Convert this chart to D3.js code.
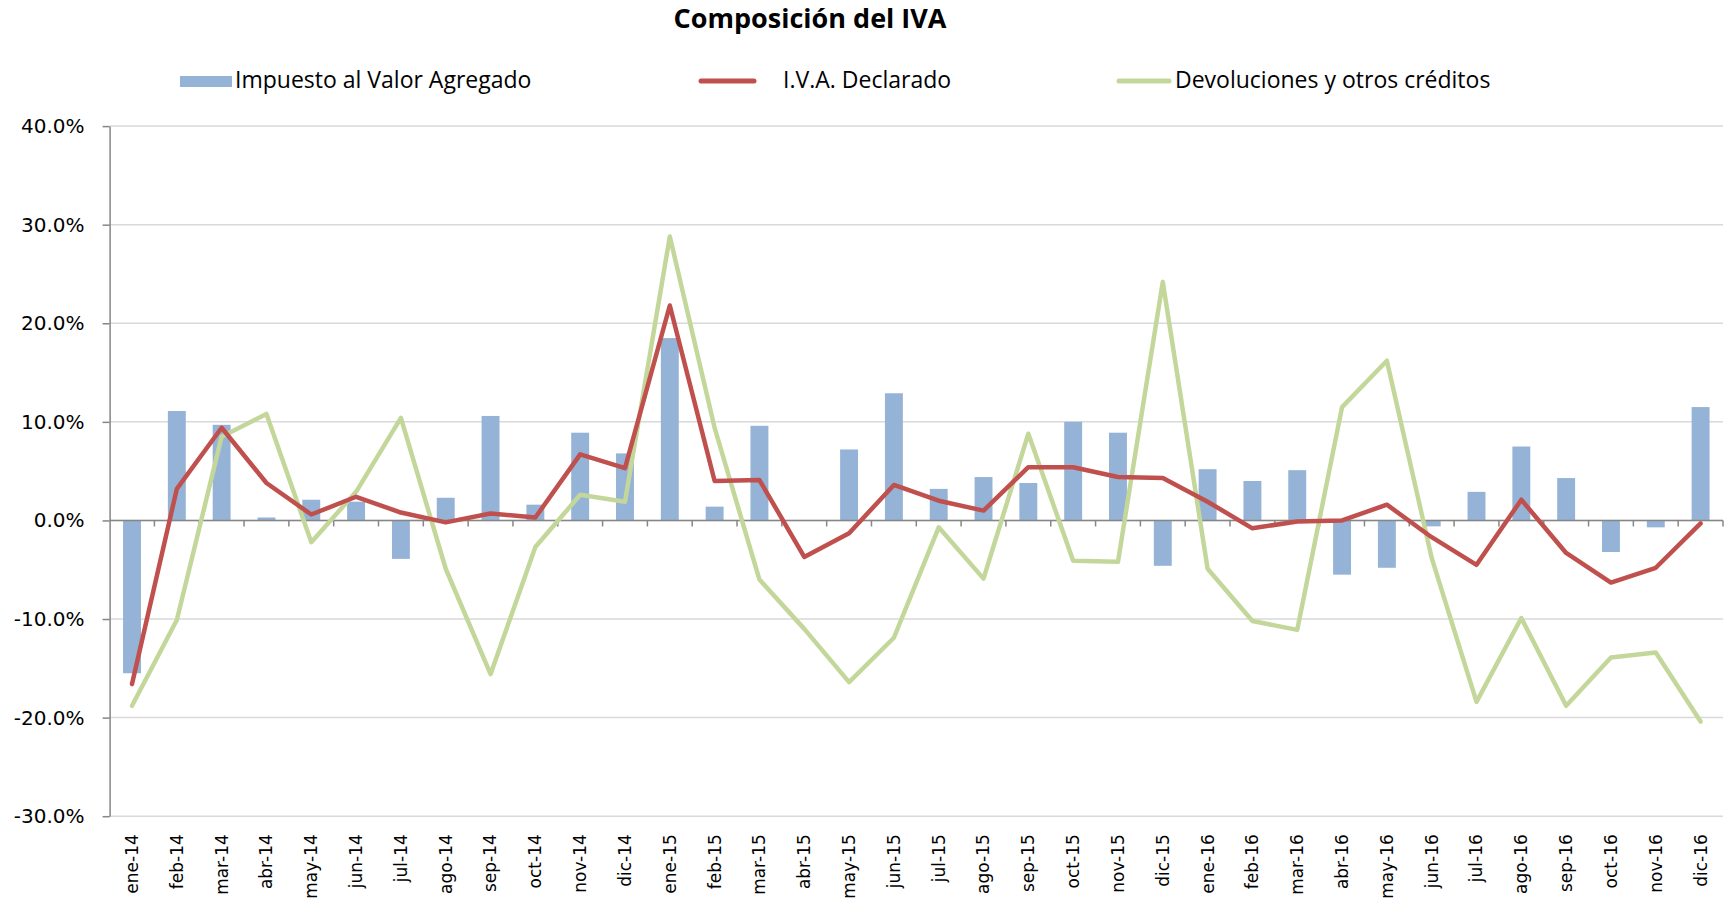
<!DOCTYPE html>
<html>
<head>
<meta charset="utf-8">
<script src="https://cdn.jsdelivr.net/npm/d3@7"></script>
<style>
  body { margin: 0; background: #fff; }
</style>
</head>
<body>
<script>
// data (percent)
var categories = ["ene-14","feb-14","mar-14","abr-14","may-14","jun-14","jul-14","ago-14","sep-14","oct-14","nov-14","dic-14",
                  "ene-15","feb-15","mar-15","abr-15","may-15","jun-15","jul-15","ago-15","sep-15","oct-15","nov-15","dic-15",
                  "ene-16","feb-16","mar-16","abr-16","may-16","jun-16","jul-16","ago-16","sep-16","oct-16","nov-16","dic-16"];

var impuesto = [-15.5, 11.1, 9.7, 0.3, 2.1, 1.9, -3.9, 2.3, 10.6, 1.6, 8.9, 6.8,
                18.5, 1.4, 9.6, 0.0, 7.2, 12.9, 3.2, 4.4, 3.8, 10.0, 8.9, -4.6,
                5.2, 4.0, 5.1, -5.5, -4.8, -0.6, 2.9, 7.5, 4.3, -3.2, -0.7, 11.5];

var declarado = [-16.6, 3.2, 9.4, 3.8, 0.6, 2.4, 0.8, -0.2, 0.7, 0.3, 6.7, 5.3,
                 21.8, 4.0, 4.1, -3.7, -1.3, 3.6, 2.0, 1.0, 5.4, 5.4, 4.4, 4.3,
                 1.9, -0.8, -0.1, 0.0, 1.6, -1.7, -4.5, 2.1, -3.3, -6.3, -4.8, -0.3];

var devoluciones = [-18.8, -10.1, 8.5, 10.8, -2.2, 2.9, 10.4, -4.9, -15.6, -2.7, 2.6, 1.9,
                    28.8, 9.4, -6.0, -11.0, -16.4, -11.9, -0.7, -5.9, 8.8, -4.1, -4.2, 24.2,
                    -4.9, -10.2, -11.1, 11.5, 16.2, -3.8, -18.4, -9.9, -18.8, -13.9, -13.4, -20.4];

var yTicks = [-30, -20, -10, 0, 10, 20, 30, 40];

var seriesNames = ["Impuesto al Valor Agregado", "I.V.A. Declarado", "Devoluciones y otros créditos"];

var svgWidth = 1729;
var svgHeight = 914;

var plotLeft = 109.6;
var plotRight = 1723;
var plotTop = 126.1;
var plotBottom = 816.2;

var svg = d3.select("body")
    .append("svg")
    .attr("width", svgWidth)
    .attr("height", svgHeight)
    .style("font-family", "'Open Sans', sans-serif");

var xScale = d3.scaleBand()
    .domain(categories)
    .range([plotLeft, plotRight])
    .paddingInner(0.6)
    .paddingOuter(0.3);

var yScale = d3.scaleLinear()
    .domain([-30, 40])
    .range([plotBottom, plotTop]);

var bw = xScale.bandwidth();
var step = xScale.step();
var cx = (d, i) => xScale(categories[i]) + bw / 2;

// gridlines
svg.append("g")
    .selectAll("line")
    .data(yTicks)
    .enter()
    .append("line")
    .attr("x1", plotLeft)
    .attr("x2", plotRight)
    .attr("y1", d => yScale(d))
    .attr("y2", d => yScale(d))
    .attr("stroke", "#d9d9d9")
    .attr("stroke-width", 1.5);

// bars
svg.append("g")
    .selectAll("rect")
    .data(impuesto)
    .enter()
    .append("rect")
    .attr("x", (d, i) => xScale(categories[i]))
    .attr("width", bw)
    .attr("y", d => yScale(Math.max(0, d)))
    .attr("height", d => Math.abs(yScale(d) - yScale(0)))
    .attr("fill", "#95b3d7");

// y axis
var yAxis = d3.axisLeft(yScale)
    .tickValues(yTicks)
    .tickSize(7)
    .tickSizeOuter(0)
    .tickPadding(18)
    .tickFormat(d => d.toFixed(1) + "%");

var yG = svg.append("g")
    .attr("transform", `translate(${plotLeft},0)`)
    .call(yAxis);
yG.select(".domain").attr("stroke", "#868686").attr("stroke-width", 1.5);
yG.selectAll(".tick line").attr("stroke", "#868686").attr("stroke-width", 1.5);
yG.selectAll("text")
    .style("font-family", "'DejaVu Sans', sans-serif")
    .style("font-size", "20px")
    .attr("fill", "#000");

// zero line with ticks on category boundaries
var y0 = yScale(0);
svg.append("line")
    .attr("x1", plotLeft)
    .attr("x2", plotRight)
    .attr("y1", y0)
    .attr("y2", y0)
    .attr("stroke", "#868686")
    .attr("stroke-width", 1.5);

svg.append("g")
    .selectAll("line")
    .data(categories)
    .enter()
    .append("line")
    .attr("x1", d => xScale(d) + bw + step * 0.3)
    .attr("x2", d => xScale(d) + bw + step * 0.3)
    .attr("y1", y0)
    .attr("y2", y0 + 6)
    .attr("stroke", "#868686")
    .attr("stroke-width", 1.5);

// lines
var lineGen = d3.line()
    .x(cx)
    .y(d => yScale(d));

svg.append("path")
    .datum(devoluciones)
    .attr("d", lineGen)
    .attr("fill", "none")
    .attr("stroke", "#c4d79b")
    .attr("stroke-width", 4.5)
    .attr("stroke-linejoin", "round")
    .attr("stroke-linecap", "round");

svg.append("path")
    .datum(declarado)
    .attr("d", lineGen)
    .attr("fill", "none")
    .attr("stroke", "#c0504d")
    .attr("stroke-width", 4.5)
    .attr("stroke-linejoin", "round")
    .attr("stroke-linecap", "round");

// category labels at the bottom
var xG = svg.append("g")
    .attr("transform", `translate(0,${plotBottom})`)
    .call(d3.axisBottom(xScale).tickSize(0));
xG.select(".domain").remove();
xG.selectAll("text")
    .attr("transform", "rotate(-90)")
    .attr("x", -18)
    .attr("y", 0)
    .attr("dy", "0.35em")
    .style("text-anchor", "end")
    .style("font-family", "'DejaVu Sans', sans-serif")
    .style("font-size", "17px")
    .attr("fill", "#000");

// title
svg.append("text")
    .attr("x", 810)
    .attr("y", 28)
    .attr("text-anchor", "middle")
    .attr("font-size", "27px")
    .attr("font-weight", "bold")
    .text("Composición del IVA");

// legend
var legend = svg.append("g");
legend.append("rect")
    .attr("x", 180).attr("y", 76)
    .attr("width", 52).attr("height", 11)
    .attr("fill", "#95b3d7");
legend.append("line")
    .attr("x1", 701).attr("x2", 754)
    .attr("y1", 81).attr("y2", 81)
    .attr("stroke", "#c0504d").attr("stroke-width", 5)
    .attr("stroke-linecap", "round");
legend.append("line")
    .attr("x1", 1119).attr("x2", 1169)
    .attr("y1", 81).attr("y2", 81)
    .attr("stroke", "#c4d79b").attr("stroke-width", 5)
    .attr("stroke-linecap", "round");

var legendX = [235, 783, 1175];
legend.selectAll("text")
    .data(seriesNames)
    .enter()
    .append("text")
    .attr("x", (d, i) => legendX[i])
    .attr("y", 88)
    .attr("font-size", "23px")
    .attr("fill", "#000")
    .text(d => d);
</script>
</body>
</html>
